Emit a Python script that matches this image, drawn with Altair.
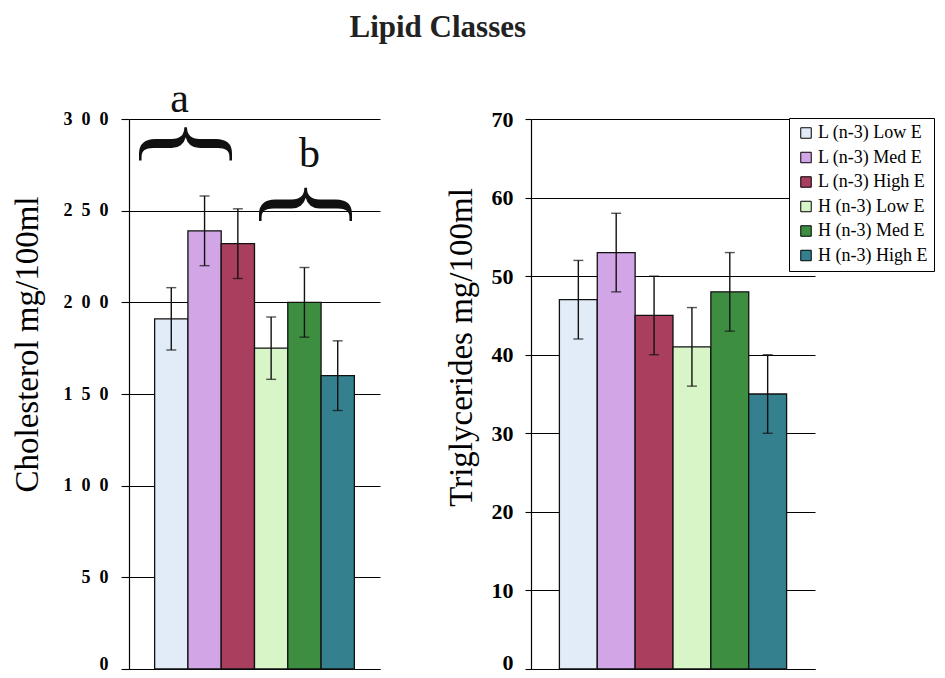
import altair as alt
import pandas as pd

groups = ["L (n-3) Low E", "L (n-3) Med E", "L (n-3) High E",
          "H (n-3) Low E", "H (n-3) Med E", "H (n-3) High E"]
colors = ["#E2ECF9", "#D2A5E6", "#A93E5E", "#D8F5C8", "#3E8E42", "#34808E"]

chol_mean = [191, 239, 232, 175, 200, 160]
chol_err = [17, 19, 19, 17, 19, 19]
trig_mean = [47, 53, 45, 41, 48, 35]
trig_err = [5, 5, 5, 5, 5, 5]

chol_ticks = [0, 50, 100, 150, 200, 250, 300]
trig_ticks = [0, 10, 20, 30, 40, 50, 60, 70]

# significance letters over the cholesterol panel
sig_letters = ["a", "b"]
sig_anchor = ["L (n-3) Med E", "H (n-3) Med E"]
sig_letter_y = [304, 274]
sig_brace_y = [286.4, 253.4]
sig_letter_dx = [-25, 5]
# braces are rotated 90 degrees, so their local dy shifts them sideways
sig_brace_shift = [17, -4]

SERIF = "Liberation Serif"

chol = pd.DataFrame({"group": groups, "mean": chol_mean,
                     "lo": [m - e for m, e in zip(chol_mean, chol_err)],
                     "hi": [m + e for m, e in zip(chol_mean, chol_err)]})
trig = pd.DataFrame({"group": groups, "mean": trig_mean,
                     "lo": [m - e for m, e in zip(trig_mean, trig_err)],
                     "hi": [m + e for m, e in zip(trig_mean, trig_err)]})

zero_baseline = {"condition": {"test": "datum.value == 0", "value": "alphabetic"},
                 "value": "middle"}


def make_axes(ticks, title, title_size, label_size, label_expr, label_pad,
              tick_size, title_x, title_y, pad_outer):
    xscale = alt.Scale(paddingInner=0, paddingOuter=pad_outer)
    xaxis = alt.Axis(labels=False, ticks=False, title=None, domain=True,
                     domainColor="black", domainWidth=1.2)
    yaxis = alt.Axis(values=ticks, title=title, grid=True, gridColor="black",
                     gridWidth=1.1, gridOpacity=1, domainColor="black",
                     domainWidth=1.2, tickColor="black", tickSize=tick_size,
                     tickWidth=1.1, labelFont=SERIF, labelFontWeight="bold",
                     labelFontSize=label_size, labelColor="black",
                     labelPadding=label_pad, labelExpr=label_expr,
                     labelBaseline=zero_baseline,
                     titleFont=SERIF, titleFontSize=title_size,
                     titleFontWeight="normal", titleColor="black",
                     titleX=title_x, titleY=title_y, titleAlign="center",
                     titleBaseline="alphabetic", titleAngle=270)
    yscale = alt.Scale(domain=[ticks[0], ticks[-1]], nice=False)
    X = lambda: alt.X("group:N", sort=groups, scale=xscale, axis=xaxis)
    Y = lambda f: alt.Y(f, scale=yscale, axis=yaxis)
    return X, Y


def panel(df, X, Y, legend):
    bars = alt.Chart(df).mark_bar(stroke="#111", strokeWidth=1.3).encode(
        x=X(), y=Y("mean:Q"),
        color=alt.Color("group:N", sort=groups,
                        scale=alt.Scale(domain=groups, range=colors),
                        legend=legend),
    )
    rule = alt.Chart(df).mark_rule(color="#111", strokeWidth=1.4).encode(
        x=X(), y=Y("lo:Q"), y2="hi:Q")
    cap_lo = alt.Chart(df).mark_tick(color="#111", thickness=1.4, size=10).encode(
        x=X(), y=Y("lo:Q"))
    cap_hi = alt.Chart(df).mark_tick(color="#111", thickness=1.4, size=10).encode(
        x=X(), y=Y("hi:Q"))
    return [bars, rule, cap_lo, cap_hi]


spaced = "replace(datum.label, regexp('([0-9])(?=[0-9])', 'g'), '$1\u2002')"

H = 550
LX, LY = make_axes(chol_ticks, "Cholesterol mg/100ml", 33, 18, spaced, 13,
                   8, -92, 225, 0.77)
left_layers = panel(chol, LX, LY, None)

for i in range(len(sig_letters)):
    ann = pd.DataFrame({"group": [sig_anchor[i]], "ly": [sig_letter_y[i]],
                        "by": [sig_brace_y[i]], "txt": [sig_letters[i]]})
    left_layers.append(
        alt.Chart(ann).mark_text(font=SERIF, fontSize=42, color="#111",
                                 baseline="alphabetic", align="center",
                                 dx=sig_letter_dx[i]).encode(
            x=LX(), y=LY("ly:Q"), text="txt:N"))
    left_layers.append(
        alt.Chart(ann).mark_text(font=SERIF, fontSize=112, color="#111",
                                 baseline="middle", align="center", angle=90,
                                 text="{", dy=sig_brace_shift[i]).encode(
            x=LX(), y=LY("by:Q")))

left = alt.layer(*left_layers).properties(width=251, height=H)

legend = alt.Legend(title=None, orient="none", legendX=258, legendY=-1,
                    labelFont=SERIF, labelFontSize=18, labelColor="black",
                    symbolType="square", symbolSize=110,
                    symbolStrokeColor="black", symbolStrokeWidth=1,
                    fillColor="white", strokeColor="black", padding=6,
                    rowPadding=6.5, labelOffset=3, symbolOffset=2, labelLimit=400)

RX, RY = make_axes(trig_ticks, "Triglycerides mg/100ml", 33, 22, "datum.label", 12,
                   6, -60, 228, 0.75)
right = alt.layer(*panel(trig, RX, RY, legend)).properties(width=284, height=H)

chart = alt.hconcat(
    left, right, spacing=151, bounds="flush",
    title=alt.TitleParams("Lipid Classes", font=SERIF, fontSize=31,
                          fontWeight="bold", color="#222", anchor="middle",
                          baseline="alphabetic", offset=10, dx=-35),
).resolve_scale(color="independent", y="independent").configure_view(
    stroke=None
).properties(padding={"left": 3, "top": 3, "right": 0, "bottom": 0})

chart.save("out.html", embed_options={"renderer": "svg", "actions": False})
